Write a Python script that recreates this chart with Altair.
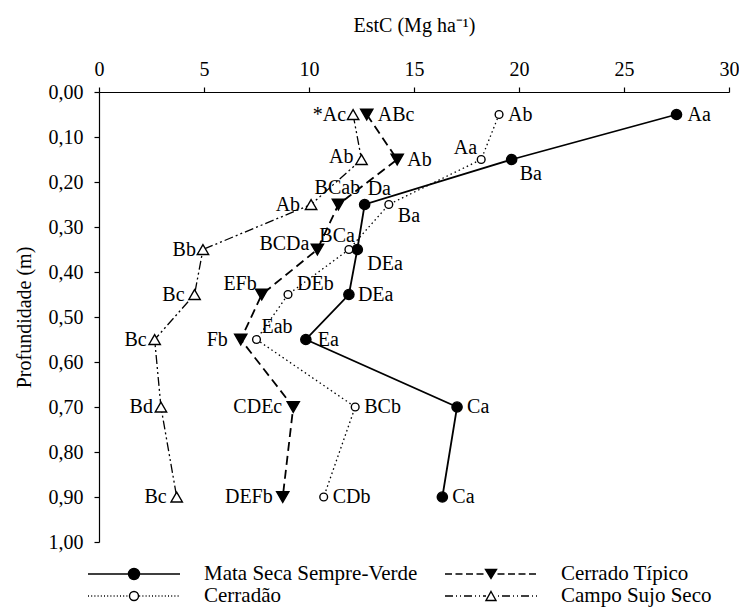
import altair as alt
import pandas as pd

# ---------------- data ----------------
profundidade = [0.05, 0.15, 0.25, 0.35, 0.45, 0.55, 0.70, 0.90]
# order = legend order (column-major, 2 columns)
series_names = ["Mata Seca Sempre-Verde", "Cerradão", "Cerrado Típico", "Campo Sujo Seco"]

mata_seca = [27.5, 19.65, 12.65, 12.3, 11.9, 9.85, 17.05, 16.35]
cerrado_tipico = [12.75, 14.2, 11.4, 10.4, 7.75, 6.75, 9.25, 8.75]
cerradao = [19.05, 18.2, 13.8, 11.9, 9.0, 7.5, 12.2, 10.7]
campo_sujo = [12.1, 12.5, 10.1, 4.95, 4.55, 2.65, 2.95, 3.7]

mata_letras = ["Aa", "Ba", "Da", "DEa", "DEa", "Ea", "Ca", "Ca"]
tipico_letras = ["ABc", "Ab", "BCab", "BCDa", "EFb", "Fb", "CDEc", "DEFb"]
cerradao_letras = ["Ab", "Aa", "Ba", "BCa", "DEb", "Eab", "BCb", "CDb"]
campo_letras = ["*Ac", "Ab", "Ab", "Bb", "Bc", "Bc", "Bd", "Bc"]

x_ticks = [0, 5, 10, 15, 20, 25, 30]
y_ticks = [0.0, 0.1, 0.2, 0.3, 0.4, 0.5, 0.6, 0.7, 0.8, 0.9, 1.0]

valores = {
    "Mata Seca Sempre-Verde": mata_seca,
    "Cerrado Típico": cerrado_tipico,
    "Cerradão": cerradao,
    "Campo Sujo Seco": campo_sujo,
}
letras = {
    "Mata Seca Sempre-Verde": mata_letras,
    "Cerrado Típico": tipico_letras,
    "Cerradão": cerradao_letras,
    "Campo Sujo Seco": campo_letras,
}

rows = []
for s in series_names:
    for i, (p, v, l) in enumerate(zip(profundidade, valores[s], letras[s])):
        rows.append({"serie": s, "prof": p, "estc": v, "letra": l, "idx": i})
df = pd.DataFrame(rows)

# ---------------- styles ----------------
FONT = "Liberation Serif"
STYLE = {
    "Mata Seca Sempre-Verde": dict(dash=None, width=1.8, shape="circle", fill="black", size=105,
                                   marker="circle_f", ldash=None),
    "Cerrado Típico": dict(dash=[9, 5], width=1.8, shape="triangle-down", fill="black", size=150,
                           marker="tri_down", ldash=[7, 3.5]),
    "Cerradão": dict(dash=[1.5, 3], width=1.3, shape="circle", fill="white", size=60,
                     marker="circle_o", ldash=[1, 2.2]),
    "Campo Sujo Seco": dict(dash=[9, 3, 2, 3, 2, 3], width=1.3, shape="triangle-up", fill="white", size=130,
                            marker="tri_up", ldash=[8, 3, 1, 3, 1, 3]),
}

# label placement: (align, dx, dy) per point
LABEL_POS = {
    "Mata Seca Sempre-Verde": [("left", 11, 0), ("left", 8, 14), ("left", 3, -16), ("left", 10, 14),
                               ("left", 9, 0), ("left", 12, 0), ("left", 10, 0), ("left", 10, 0)],
    "Cerradão": [("left", 9, 0), ("right", -4, -12), ("left", 9, 11), ("right", 6, -14),
                 ("left", 9, -11), ("left", 5, -13), ("left", 9, 0), ("left", 9, 0)],
    "Cerrado Típico": [("left", 11, 0), ("left", 10, 0), ("center", -1, -17), ("right", -8, -6),
                       ("right", -5, -11), ("right", -13, 0), ("right", -11, 0), ("right", -10, 0)],
    "Campo Sujo Seco": [("right", -7, 0), ("right", -8, -3), ("right", -11, 0), ("right", -7, 0),
                        ("right", -10, 0), ("right", -8, 0), ("right", -8, 0), ("right", -10, 0)],
}

# ---------------- legend symbol paths (line + marker) ----------------
H = 46.0  # half width of legend symbol in px


def fmt(v):
    return f"{v / H:.4f}"


def legend_path(dash, marker):
    gap = {"circle_f": 5.5, "circle_o": 4.5, "tri_down": 5.5, "tri_up": 5.0}[marker]
    segs = []

    def add(a, b):
        for lo, hi in ((a, min(b, -gap)), (max(a, gap), b)):
            if hi - lo > 0.05:
                segs.append(f"M{fmt(lo)},0H{fmt(hi)}")

    if not dash:
        add(-H, H)
    else:
        x = -H
        k = 0
        while x < H:
            L = dash[k % len(dash)]
            if k % 2 == 0:
                add(x, min(x + L, H))
            x += L
            k += 1
    if marker.startswith("circle"):
        r = gap
        m = (f"M{fmt(-r)},0A{fmt(r)} {fmt(r)} 0 1 0 {fmt(r)},0"
             f"A{fmt(r)} {fmt(r)} 0 1 0 {fmt(-r)},0Z")
    elif marker == "tri_down":
        m = f"M{fmt(-5.5)},{fmt(-4.5)}L{fmt(5.5)},{fmt(-4.5)}L0,{fmt(4.5)}Z"
    else:
        m = f"M0,{fmt(-4.5)}L{fmt(5)},{fmt(4.5)}L{fmt(-5)},{fmt(4.5)}Z"
    return "".join(segs) + m


legend_paths = [legend_path(STYLE[s]["ldash"], STYLE[s]["marker"]) for s in series_names]
legend_fills = [STYLE[s]["fill"] for s in series_names]
legend_strokes = ["black" for s in series_names]

# ---------------- encodings ----------------
x_enc = alt.X(
    "estc:Q",
    scale=alt.Scale(domain=[0, 30], nice=False, zero=False),
    axis=alt.Axis(
        orient="top", values=x_ticks, title="EstC (Mg ha⁻¹)", grid=False,
        labelFont=FONT, labelFontSize=20, labelColor="black", labelPadding=8,
        titleFont=FONT, titleFontSize=20, titleFontWeight="normal", titleColor="black", titlePadding=24,
        domainColor="black", domainWidth=1.2, tickColor="black", tickWidth=1.2, tickSize=5,
        labelFlush=False, labelOverlap=False,
    ),
)
y_enc = alt.Y(
    "prof:Q",
    scale=alt.Scale(domain=[0, 1], reverse=True, nice=False, zero=False),
    axis=alt.Axis(
        values=y_ticks, title="Profundidade (m)", grid=False,
        labelExpr="replace(format(datum.value, '.2f'), '.', ',')",
        labelFont=FONT, labelFontSize=20, labelColor="black", labelPadding=11,
        titleFont=FONT, titleFontSize=20, titleFontWeight="normal", titleColor="black", titlePadding=14,
        domainColor="black", domainWidth=1.2, tickColor="black", tickWidth=1.2, tickSize=5,
        labelFlush=False, labelOverlap=False,
    ),
)

base = alt.Chart(df)
layers = []

for s in series_names:
    st = STYLE[s]
    line_kwargs = dict(color="black", strokeWidth=st["width"])
    if st["dash"]:
        line_kwargs["strokeDash"] = st["dash"]
    layers.append(
        base.transform_filter(alt.datum.serie == s)
        .mark_line(**line_kwargs)
        .encode(x=x_enc, y=y_enc, order=alt.Order("prof:Q"))
    )

for s in series_names:
    st = STYLE[s]
    layers.append(
        base.transform_filter(alt.datum.serie == s)
        .mark_point(shape=st["shape"], filled=True, fill=st["fill"], stroke="black",
                    strokeWidth=1.4, size=st["size"], opacity=1)
        .encode(x=x_enc, y=y_enc)
    )

for s in series_names:
    for i, (al, dx, dy) in enumerate(LABEL_POS[s]):
        layers.append(
            base.transform_filter((alt.datum.serie == s) & (alt.datum.idx == i))
            .mark_text(align=al, baseline="middle", dx=dx, dy=dy, font=FONT, fontSize=20, color="black")
            .encode(x=x_enc, y=y_enc, text="letra:N")
        )

legend = alt.Legend(
    title=None, orient="none", legendX=-12, legendY=472, columns=2,
    symbolSize=(2 * H) ** 2, symbolStrokeColor="black", symbolStrokeWidth=1.4,
    clipHeight=20, rowPadding=1, columnPadding=26, labelOffset=23, padding=0,
    labelFont=FONT, labelFontSize=21, labelColor="black", labelLimit=500,
    symbolOpacity=1,
)

legend_layer = (
    base.transform_filter("false")
    .mark_point(filled=False, strokeWidth=1.4, opacity=1)
    .encode(
        x=x_enc, y=y_enc,
        shape=alt.Shape("serie:N", scale=alt.Scale(domain=series_names, range=legend_paths), legend=legend),
        fill=alt.Fill("serie:N", scale=alt.Scale(domain=series_names, range=legend_fills), legend=legend),
        stroke=alt.Stroke("serie:N", scale=alt.Scale(domain=series_names, range=legend_strokes), legend=legend),
    )
)
layers.append(legend_layer)

chart = (
    alt.layer(*layers)
    .properties(
        width=630, height=450,
        padding={"left": 99, "top": 92, "right": 10, "bottom": 65},
        autosize=alt.AutoSizeParams(type="none"),
        background="white",
    )
    .configure_view(stroke=None)
)

chart.save("out.html", embed_options={"renderer": "svg", "actions": False})
